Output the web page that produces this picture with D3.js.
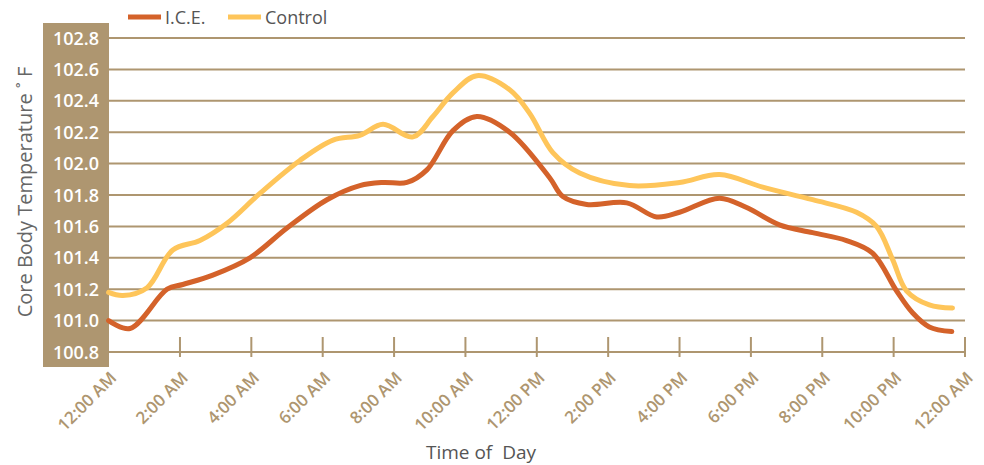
<!DOCTYPE html>
<html>
<head>
<meta charset="utf-8">
<script src="https://cdn.jsdelivr.net/npm/d3@7"></script>
<style>
  body { margin: 0; background: #fff; }
  text { font-family: "Open Sans", sans-serif; }
</style>
</head>
<body>
<svg id="chart" width="984" height="465"></svg>
<script>
// hour of day for every reading
var iceHours = [0, 0.6, 1.64, 2.08, 2.92, 3.96, 5.0, 6.12, 7.04, 7.69, 8.36, 8.92, 9.65, 10.32, 11.24, 12.36, 12.73, 13.4, 14.52, 15.36, 16.0, 17.12, 17.88, 18.8, 19.73, 20.68, 21.41, 22.08, 22.53, 23.0, 23.63];
var iceTemps = [101.00, 100.95, 101.20, 101.23, 101.29, 101.40, 101.59, 101.77, 101.86, 101.88, 101.88, 101.96, 102.21, 102.30, 102.20, 101.91, 101.79, 101.74, 101.75, 101.66, 101.69, 101.78, 101.72, 101.61, 101.56, 101.51, 101.43, 101.19, 101.05, 100.96, 100.93];

var controlHours = [0, 0.4, 1.08, 1.8, 2.56, 3.32, 4.24, 5.36, 6.29, 7.04, 7.69, 8.53, 9.09, 9.65, 10.32, 11.24, 11.8, 12.45, 13.2, 14.6, 16.0, 17.12, 18.33, 19.73, 20.96, 21.52, 21.97, 22.36, 23.0, 23.65];
var controlTemps = [101.18, 101.16, 101.21, 101.45, 101.51, 101.62, 101.81, 102.02, 102.15, 102.18, 102.25, 102.17, 102.30, 102.45, 102.56, 102.47, 102.32, 102.07, 101.94, 101.86, 101.88, 101.93, 101.85, 101.77, 101.69, 101.60, 101.39, 101.19, 101.10, 101.08];

var timeTicks = [0, 2, 4, 6, 8, 10, 12, 14, 16, 18, 20, 22, 24];
var timeLabels = ["12:00 AM", "2:00 AM", "4:00 AM", "6:00 AM", "8:00 AM", "10:00 AM", "12:00 PM", "2:00 PM", "4:00 PM", "6:00 PM", "8:00 PM", "10:00 PM", "12:00 AM"];
var tempTicks = [100.8, 101.0, 101.2, 101.4, 101.6, 101.8, 102.0, 102.2, 102.4, 102.6, 102.8];

var seriesNames = ["I.C.E.", "Control"];
var seriesColors = ["#d4622a", "#fec55a"];

var tan = "#ae9670";
var svg = d3.select("#chart");

var x = d3.scaleLinear().domain([0, 24]).range([108.6, 965]);
var y = d3.scaleLinear().domain([100.8, 102.8]).range([352, 38]);

// tan panel behind the y labels
svg.append("rect")
  .attr("x", 43)
  .attr("y", 23)
  .attr("width", 66)
  .attr("height", 344)
  .style("fill", tan);

// grid
svg.append("g")
  .selectAll("line")
  .data(tempTicks)
  .enter().append("line")
  .attr("x1", x(0))
  .attr("x2", x(24))
  .attr("y1", function (d) { return y(d); })
  .attr("y2", function (d) { return y(d); })
  .style("stroke", tan)
  .style("stroke-width", "2px");

// x axis ticks
svg.append("g")
  .selectAll("line")
  .data(timeTicks.slice(1))
  .enter().append("line")
  .attr("x1", function (d) { return x(d); })
  .attr("x2", function (d) { return x(d); })
  .attr("y1", 337)
  .attr("y2", 357)
  .style("stroke", tan)
  .style("stroke-width", "2px");

// y labels
svg.append("g")
  .selectAll("text")
  .data(tempTicks)
  .enter().append("text")
  .attr("x", 99)
  .attr("y", function (d) { return y(d) + 6.5; })
  .attr("text-anchor", "end")
  .style("fill", "#fff")
  .style("font-size", "18px")
  .style("font-weight", 600)
  .text(function (d) { return d.toFixed(1); });

// x labels
svg.append("g")
  .selectAll("text")
  .data(timeTicks)
  .enter().append("text")
  .attr("transform", function (d) { return "translate(" + (x(d) + 9) + ",379) rotate(-45)"; })
  .attr("text-anchor", "end")
  .style("fill", tan)
  .style("font-size", "17px")
  .style("font-weight", 600)
  .text(function (d, i) { return timeLabels[i]; });

// lines
var line = d3.line()
  .x(function (d) { return x(d[0]); })
  .y(function (d) { return y(d[1]); })
  .curve(d3.curveCatmullRom.alpha(0.5));

var series = [
  d3.zip(iceHours, iceTemps),
  d3.zip(controlHours, controlTemps)
];

svg.append("g")
  .selectAll("path")
  .data([series[1], series[0]])
  .enter().append("path")
  .attr("d", line)
  .style("fill", "none")
  .style("stroke", function (d, i) { return i === 0 ? seriesColors[1] : seriesColors[0]; })
  .style("stroke-width", "5px")
  .style("stroke-linecap", "round");

// legend
var legendX = [128, 228];
var legend = svg.append("g")
  .selectAll("g")
  .data(seriesNames)
  .enter().append("g")
  .attr("transform", function (d, i) { return "translate(" + legendX[i] + ",17)"; });

legend.append("line")
  .attr("x1", 0)
  .attr("x2", 33)
  .style("stroke", function (d, i) { return seriesColors[i]; })
  .style("stroke-width", "5px");

legend.append("text")
  .attr("x", 37)
  .attr("y", 6.5)
  .style("fill", "#555")
  .style("font-size", "18px")
  .text(function (d) { return d; });

// axis titles
svg.append("text")
  .attr("transform", "translate(32,192) rotate(-90)")
  .attr("text-anchor", "middle")
  .style("fill", "#666")
  .style("font-size", "20px")
  .text("Core Body Temperature \u02DA F");

svg.append("text")
  .attr("x", 481)
  .attr("y", 459)
  .attr("text-anchor", "middle")
  .style("fill", "#555")
  .style("font-size", "19px")
  .style("white-space", "pre")
  .text("Time of  Day");
</script>
</body>
</html>
